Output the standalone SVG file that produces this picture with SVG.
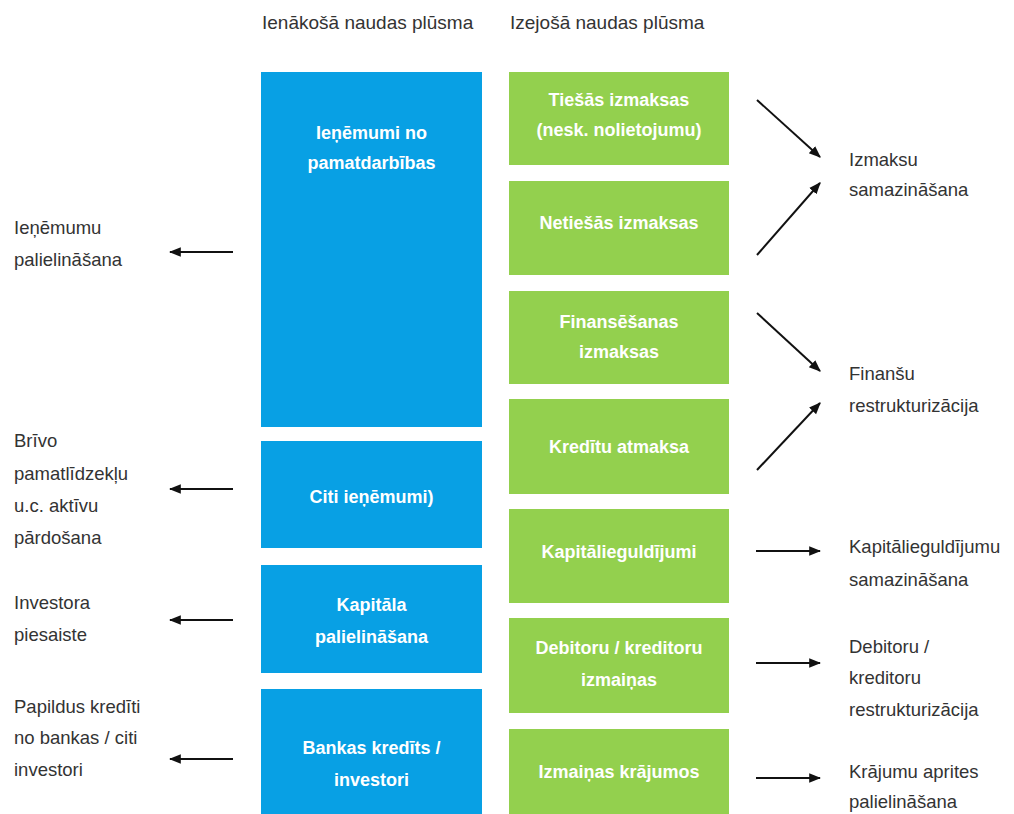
<svg xmlns="http://www.w3.org/2000/svg" width="1014" height="814" viewBox="0 0 1014 814">
<defs>
<style>
.hdr{font-family:"Liberation Sans",Arial,sans-serif;font-size:19px;fill:#333;}
.lbl{font-family:"Liberation Sans",Arial,sans-serif;font-size:18.5px;fill:#333;}
.bt{font-family:"Liberation Sans",Arial,sans-serif;font-size:18px;font-weight:bold;fill:#fff;text-anchor:middle;}
.blue{fill:#08a0e4;}
.green{fill:#93d04e;}
.arr{stroke:#111;stroke-width:2;fill:none;marker-end:url(#ah);}
</style>
<marker id="ah" viewBox="0 0 10 10" refX="9" refY="5" markerWidth="6" markerHeight="6" orient="auto" markerUnits="strokeWidth">
<path d="M0,1 L10,5 L0,9 Z" fill="#111"/>
</marker>
</defs>
<rect width="1014" height="814" fill="#fff"/>
<text class="hdr" x="262" y="29">Ienākošā naudas plūsma</text>
<text class="hdr" x="510" y="29">Izejošā naudas plūsma</text>

<g id="in1"><rect class="blue" x="261" y="72" width="221" height="355"/>
<text class="bt" x="371.5" y="139">Ieņēmumi no</text><text class="bt" x="371.5" y="169">pamatdarbības</text></g>
<g id="in2"><rect class="blue" x="261" y="441" width="221" height="107"/>
<text class="bt" x="371.5" y="503">Citi ieņēmumi)</text></g>
<g id="in3"><rect class="blue" x="261" y="565" width="221" height="108"/>
<text class="bt" x="371.5" y="611">Kapitāla</text><text class="bt" x="371.5" y="643">palielināšana</text></g>
<g id="in4"><rect class="blue" x="261" y="689" width="221" height="140"/>
<text class="bt" x="371.5" y="754">Bankas kredīts /</text><text class="bt" x="371.5" y="786">investori</text></g>

<g id="out1"><rect class="green" x="509" y="72" width="220" height="93"/>
<text class="bt" x="619" y="106">Tiešās izmaksas</text><text class="bt" x="619" y="136">(nesk. nolietojumu)</text></g>
<g id="out2"><rect class="green" x="509" y="181" width="220" height="94"/>
<text class="bt" x="619" y="229">Netiešās izmaksas</text></g>
<g id="out3"><rect class="green" x="509" y="291" width="220" height="93"/>
<text class="bt" x="619" y="328">Finansēšanas</text><text class="bt" x="619" y="358">izmaksas</text></g>
<g id="out4"><rect class="green" x="509" y="399" width="220" height="95"/>
<text class="bt" x="619" y="453">Kredītu atmaksa</text></g>
<g id="out5"><rect class="green" x="509" y="509" width="220" height="94"/>
<text class="bt" x="619" y="558">Kapitālieguldījumi</text></g>
<g id="out6"><rect class="green" x="509" y="618" width="220" height="95"/>
<text class="bt" x="619" y="654">Debitoru / kreditoru</text><text class="bt" x="619" y="686">izmaiņas</text></g>
<g id="out7"><rect class="green" x="509" y="729" width="220" height="100"/>
<text class="bt" x="619" y="778">Izmaiņas krājumos</text></g>

<g id="l1"><text class="lbl" x="14" y="234">Ieņēmumu</text><text class="lbl" x="14" y="266">palielināšana</text></g>
<g id="l2"><text class="lbl" x="14" y="447">Brīvo</text><text class="lbl" x="14" y="480">pamatlīdzekļu</text><text class="lbl" x="14" y="512">u.c. aktīvu</text><text class="lbl" x="14" y="544">pārdošana</text></g>
<g id="l3"><text class="lbl" x="14" y="609">Investora</text><text class="lbl" x="14" y="641">piesaiste</text></g>
<g id="l4"><text class="lbl" x="14" y="713">Papildus kredīti</text><text class="lbl" x="14" y="744">no bankas / citi</text><text class="lbl" x="14" y="776">investori</text></g>

<g id="r1"><text class="lbl" x="849" y="166">Izmaksu</text><text class="lbl" x="849" y="196">samazināšana</text></g>
<g id="r2"><text class="lbl" x="849" y="380">Finanšu</text><text class="lbl" x="849" y="412">restrukturizācija</text></g>
<g id="r3"><text class="lbl" x="849" y="553">Kapitālieguldījumu</text><text class="lbl" x="849" y="586">samazināšana</text></g>
<g id="r4"><text class="lbl" x="849" y="653">Debitoru /</text><text class="lbl" x="849" y="684">kreditoru</text><text class="lbl" x="849" y="716">restrukturizācija</text></g>
<g id="r5"><text class="lbl" x="849" y="778">Krājumu aprites</text><text class="lbl" x="849" y="808">palielināšana</text></g>

<g id="connectors">
<line class="arr" x1="233" y1="252" x2="170" y2="252"/>
<line class="arr" x1="233" y1="489" x2="170" y2="489"/>
<line class="arr" x1="233" y1="620" x2="170" y2="620"/>
<line class="arr" x1="233" y1="759" x2="170" y2="759"/>
<line class="arr" x1="757" y1="100" x2="820" y2="157"/>
<line class="arr" x1="757" y1="255" x2="820" y2="183"/>
<line class="arr" x1="757" y1="313" x2="820" y2="371"/>
<line class="arr" x1="757" y1="470" x2="820" y2="403"/>
<line class="arr" x1="756" y1="551" x2="820" y2="551"/>
<line class="arr" x1="756" y1="663" x2="820" y2="663"/>
<line class="arr" x1="756" y1="778" x2="820" y2="778"/>
</g>
</svg>
